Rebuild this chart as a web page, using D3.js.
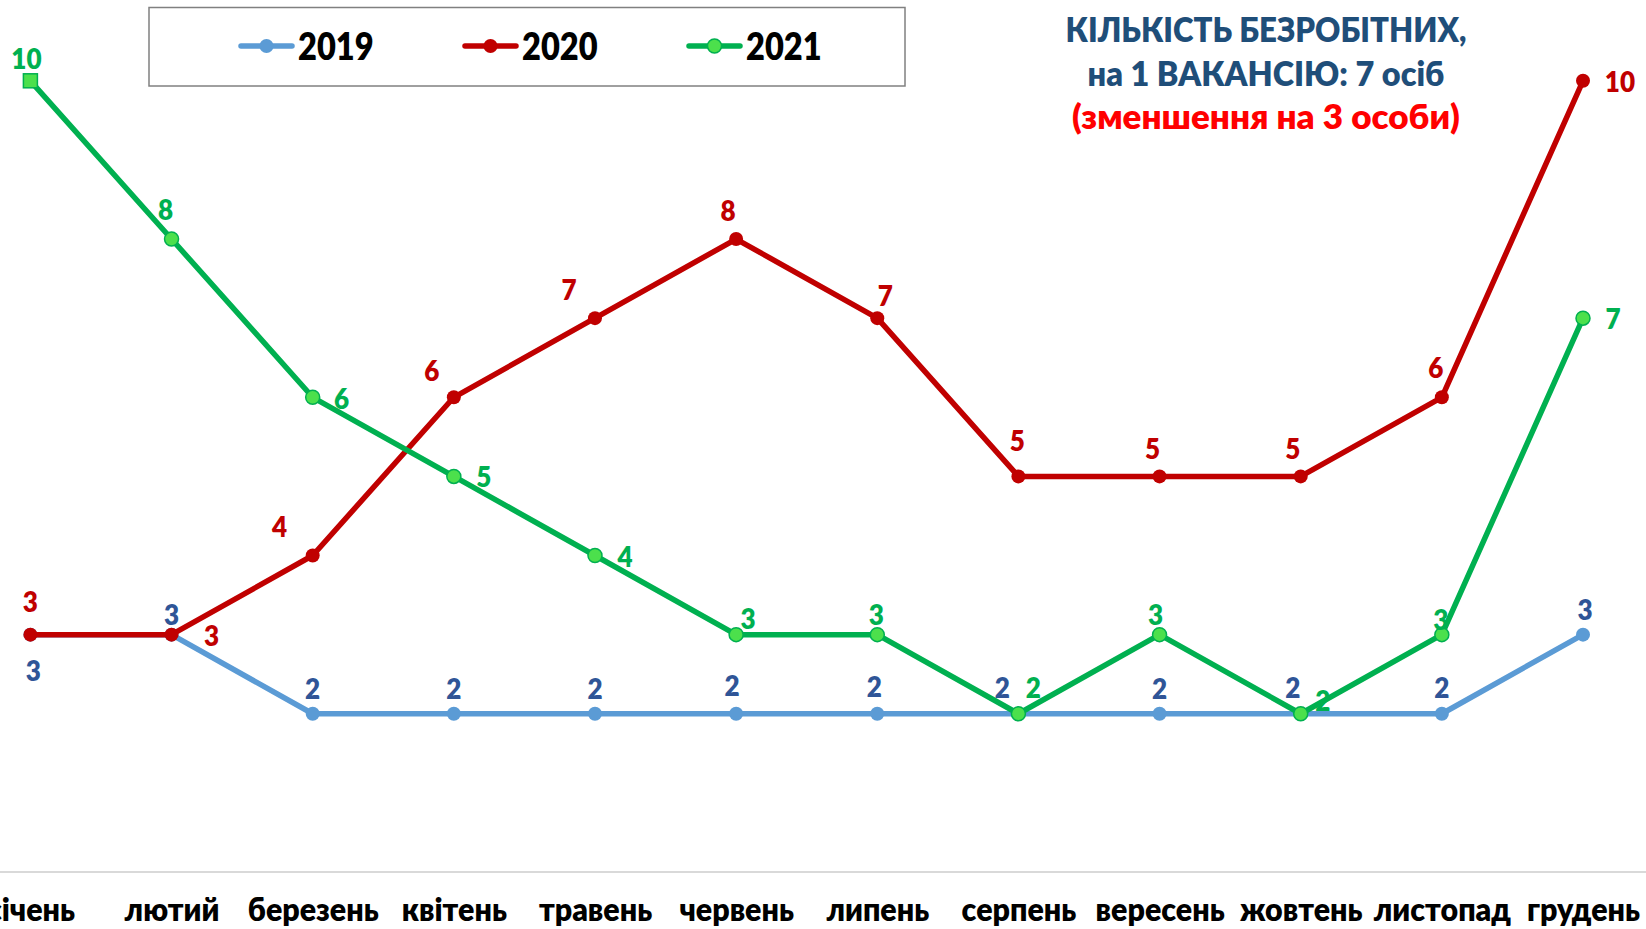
<!DOCTYPE html>
<html>
<head>
<meta charset="utf-8">
<script src="https://cdn.jsdelivr.net/npm/d3@7"></script>
<style>
  html, body { margin: 0; padding: 0; background: #fff; overflow: hidden; }
  svg { display: block; font-family: Lato, "Open Sans", sans-serif; font-weight: 800; }
</style>
</head>
<body>
<div id="chart"></div>
<script>
// data
let months = ["січень", "лютий", "березень", "квітень", "травень", "червень",
              "липень", "серпень", "вересень", "жовтень", "листопад", "грудень"];
let years = ["2019", "2020", "2021"];
let values2019 = [3, 3, 2, 2, 2, 2, 2, 2, 2, 2, 2, 3];
let values2020 = [3, 3, 4, 6, 7, 8, 7, 5, 5, 5, 6, 10];
let values2021 = [10, 8, 6, 5, 4, 3, 3, 2, 3, 2, 3, 7];
let titleLines = ["КІЛЬКІСТЬ БЕЗРОБІТНИХ,", "на 1 ВАКАНСІЮ: 7 осіб", "(зменшення на 3 особи)"];

// label placement (offset of label centre from its point)
let off2019 = [[3,35],[0,-21],[0,-26],[0,-26],[0,-26],[-4,-29],[-3,-28],[-16,-27],[0,-26],[-8,-27],[0,-27],[2,-26]];
let off2020 = [[0,-34],[40,0],[-33,-30],[-22,-27],[-26,-29],[-8,-29],[8,-23],[-1,-36],[-7,-28],[-8,-28],[-6,-30],[37,0]];
let off2021 = [[-4,-23],[-6,-30],[29,1],[30,0],[30,0],[12,-17],[-1,-21],[15,-27],[-4,-21],[22,-14],[-1,-16],[30,0]];

let W = 1646, H = 929;
let sx = 0.9; // text in the picture is a little squeezed horizontally

let series = [
    {name: years[0], values: values2019, line: "#5B9BD5", fill: "#5B9BD5", stroke: "none", label: "#2F5597", off: off2019},
    {name: years[1], values: values2020, line: "#C00000", fill: "#C00000", stroke: "none", label: "#C00000", off: off2020},
    {name: years[2], values: values2021, line: "#00B050", fill: "#4CE04C", stroke: "#00B050", label: "#00B050", off: off2021}
];

let svg = d3.select("#chart").append("svg")
    .attr("width", W)
    .attr("height", H);

let x = d3.scalePoint()
    .domain(months)
    .range([30.4, 1583]);

let y = d3.scaleLinear()
    .domain([0, 10])
    .range([872, 80.8]);

function squeezed(sel, tx, ty, s) {
    sel.attr("transform", "translate(" + tx + "," + ty + ") scale(" + (s || sx) + ",1)");
}

//x axis
let xAxis = svg.append("g")
    .attr("transform", "translate(0," + y(0) + ")")
    .call(d3.axisBottom(x).tickSize(0).tickPadding(0));
xAxis.select(".domain").remove();
xAxis.append("line")
    .attr("x1", 0).attr("x2", W)
    .attr("stroke", "#D9D9D9").attr("stroke-width", 2);
xAxis.selectAll(".tick text")
    .attr("fill", "#000")
    .attr("font-size", 32)
    .attr("font-family", "Lato, 'Open Sans', sans-serif")
    .attr("font-weight", 800)
    .attr("dy", 0)
    .attr("y", 0)
    .each(function() {
        d3.select(this).attr("transform", "translate(0,49) scale(0.95,1)");
    });

let line = d3.line()
    .x((d, i) => x(months[i]))
    .y(d => y(d));

//lines and markers
series.forEach(function(s) {
    let g = svg.append("g");
    g.append("path")
        .datum(s.values)
        .attr("d", line)
        .attr("fill", "none")
        .attr("stroke", s.line)
        .attr("stroke-width", 5.5)
        .attr("stroke-linejoin", "round");

    g.selectAll("circle")
        .data(s.values.map((v, i) => ({v: v, i: i})).filter(d => !(s.name === "2021" && d.i === 0)))
        .enter().append("circle")
        .attr("cx", d => x(months[d.i]))
        .attr("cy", d => y(d.v))
        .attr("r", 7)
        .attr("fill", s.fill)
        .attr("stroke", s.stroke)
        .attr("stroke-width", 1.5);

    if (s.name === "2021") {
        g.append("rect")
            .attr("x", x(months[0]) - 7)
            .attr("y", y(s.values[0]) - 7)
            .attr("width", 14)
            .attr("height", 14)
            .attr("fill", s.fill)
            .attr("stroke", s.stroke)
            .attr("stroke-width", 1.5);
    }
});

//data labels
series.forEach(function(s) {
    svg.append("g").selectAll("text")
        .data(s.values)
        .enter().append("text")
        .attr("text-anchor", "middle")
        .attr("dominant-baseline", "central")
        .attr("font-size", 29)
        .attr("fill", s.label)
        .text(d => d)
        .each(function(d, i) {
            squeezed(d3.select(this), x(months[i]) + s.off[i][0], y(d) + s.off[i][1]);
        });
});

//legend
let legend = svg.append("g");
legend.append("rect")
    .attr("x", 149).attr("y", 7.5)
    .attr("width", 756).attr("height", 78.5)
    .attr("fill", "#fff")
    .attr("stroke", "#808080")
    .attr("stroke-width", 1.5);

let legendX = [241, 465, 689];
series.forEach(function(s, i) {
    let lg = legend.append("g").attr("transform", "translate(" + legendX[i] + ",46)");
    lg.append("line")
        .attr("x1", 0).attr("x2", 51)
        .attr("stroke", s.line)
        .attr("stroke-width", 5.5)
        .attr("stroke-linecap", "round");
    lg.append("circle")
        .attr("cx", 25.5).attr("r", 7)
        .attr("fill", s.fill)
        .attr("stroke", s.stroke)
        .attr("stroke-width", 1.5);
    let t = lg.append("text")
        .attr("font-size", 37)
        .attr("fill", "#000")
        .text(s.name);
    squeezed(t, 57, 14, 0.88);
});

//title, each line fitted to the width it has in the picture
let titleColors = ["#1F4E79", "#1F4E79", "#FF0000"];
let titleY = [42, 86, 129];
let titleW = [401, 357, 388];
titleLines.forEach(function(tl, i) {
    let t = svg.append("text")
        .attr("text-anchor", "middle")
        .attr("font-size", 34)
        .attr("fill", titleColors[i])
        .text(tl);
    let natural = t.node().getComputedTextLength();
    squeezed(t, 1266, titleY[i], titleW[i] / natural);
});
</script>
</body>
</html>
